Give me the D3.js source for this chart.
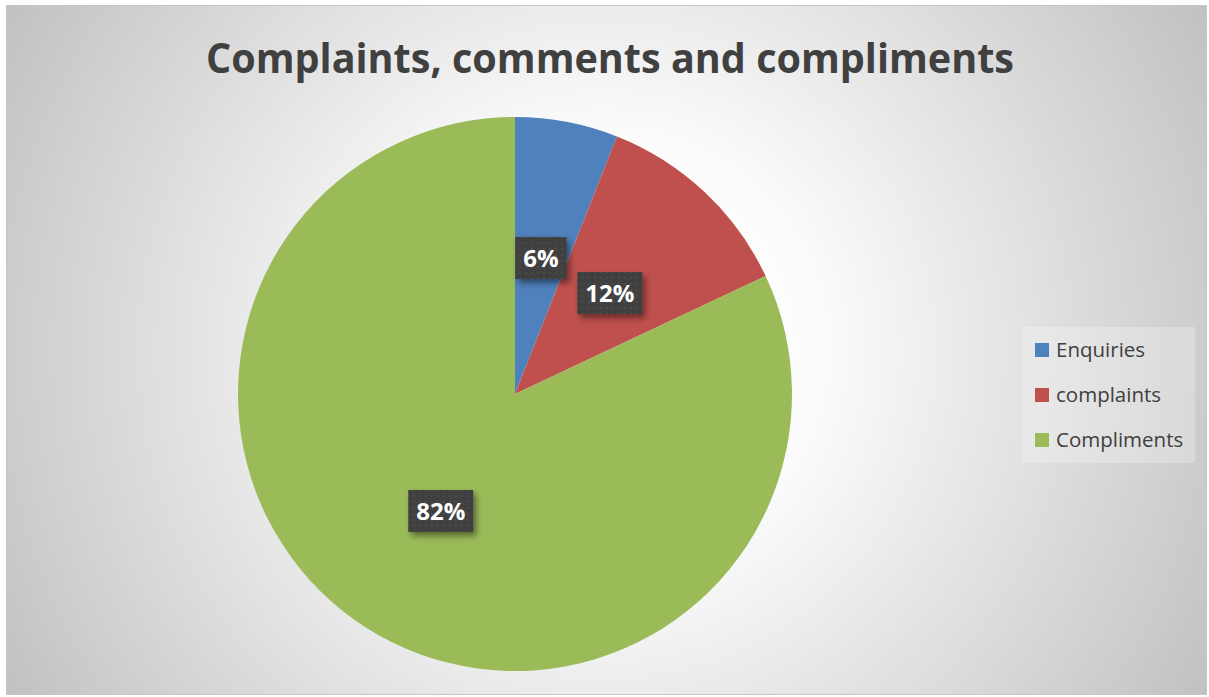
<!DOCTYPE html>
<html>
<head>
<meta charset="utf-8">
<script src="https://cdn.jsdelivr.net/npm/d3@7"></script>
<style>
  html, body { margin: 0; padding: 0; background: #ffffff; }
  svg { display: block; }
</style>
</head>
<body>
<svg id="chart" width="1209" height="697"></svg>
<script>
// Feedback breakdown
const categories = ["Enquiries", "complaints", "Compliments"];
const shares = [6, 12, 82];
const sliceColors = ["#4F81BD", "#C0504D", "#9BBB59"];
const titleText = "Complaints, comments and compliments";

const W = 1209, H = 697;
const svg = d3.select("#chart");
const defs = svg.append("defs");

// Radial grey-to-white backdrop
const bg = defs.append("radialGradient")
  .attr("id", "bgGrad")
  .attr("gradientUnits", "userSpaceOnUse")
  .attr("cx", 606).attr("cy", 350).attr("r", 700);
bg.append("stop").attr("offset", "0").attr("stop-color", "#ffffff");
bg.append("stop").attr("offset", "0.3").attr("stop-color", "#fcfcfc");
bg.append("stop").attr("offset", "1").attr("stop-color", "#c0c0c0");

// Dotted texture for the data-label boxes
const pat = defs.append("pattern")
  .attr("id", "dots")
  .attr("patternUnits", "userSpaceOnUse")
  .attr("width", 6).attr("height", 6);
pat.append("rect").attr("width", 6).attr("height", 6).attr("fill", "#3f3f3f");
pat.append("rect").attr("x", 2).attr("y", 2).attr("width", 2).attr("height", 2).attr("fill", "#4d4d4d");

// Soft drop shadow for label boxes
const sh = defs.append("filter").attr("id", "shadow")
  .attr("x", "-30%").attr("y", "-30%").attr("width", "160%").attr("height", "170%");
sh.append("feDropShadow")
  .attr("dx", 3).attr("dy", 4).attr("stdDeviation", 3)
  .attr("flood-color", "#000").attr("flood-opacity", 0.45);

// Chart area
svg.append("rect")
  .attr("x", 6.5).attr("y", 5.5)
  .attr("width", 1200).attr("height", 689)
  .attr("fill", "url(#bgGrad)")
  .attr("stroke", "#c6c6c6").attr("stroke-width", 1);

// Title
svg.append("text")
  .attr("x", 610).attr("y", 73)
  .attr("text-anchor", "middle")
  .attr("font-family", "'Open Sans', sans-serif")
  .attr("font-weight", 700)
  .attr("font-size", 41)
  .attr("fill", "#404040")
  .attr("textLength", 808)
  .attr("lengthAdjust", "spacingAndGlyphs")
  .text(titleText);

// Pie
const cx = 515, cy = 394, R = 277;
const data = categories.map((c, i) => ({ name: c, value: shares[i], color: sliceColors[i] }));
const pie = d3.pie().value(d => d.value).sort(null);
const arcs = pie(data);
const arc = d3.arc().innerRadius(0).outerRadius(R);
const labelArc = d3.arc().innerRadius(0).outerRadius(R);

const g = svg.append("g").attr("transform", `translate(${cx},${cy})`);
g.selectAll("path.slice")
  .data(arcs)
  .join("path")
  .attr("class", "slice")
  .attr("d", arc)
  .attr("fill", d => d.data.color);

// Data labels
const total = d3.sum(shares);
const fmt = d => Math.round(d.data.value / total * 100) + "%";
const lbl = g.selectAll("g.lbl")
  .data(arcs)
  .join("g")
  .attr("class", "lbl")
  .attr("transform", d => {
    const [x, y] = labelArc.centroid(d);
    return `translate(${x},${y})`;
  });

lbl.each(function(d) {
  const sel = d3.select(this);
  const t = sel.append("text")
    .attr("text-anchor", "middle")
    .attr("dy", "0.36em")
    .attr("font-family", "'Open Sans', sans-serif")
    .attr("font-weight", 700)
    .attr("font-size", 24)
    .attr("fill", "#ffffff")
    .text(fmt(d));
  const bb = t.node().getBBox();
  const bw = bb.width + 16, bh = 42;
  sel.insert("rect", "text")
    .attr("x", -bw / 2).attr("y", -bh / 2)
    .attr("width", bw).attr("height", bh)
    .attr("fill", "url(#dots)")
    .attr("filter", "url(#shadow)");
});

// Legend
const lg = svg.append("g");
lg.append("rect")
  .attr("x", 1022).attr("y", 327)
  .attr("width", 173).attr("height", 136)
  .attr("fill", "#ffffff").attr("fill-opacity", 0.25);

const rowY = d3.scalePoint().domain(categories).range([350, 440]);
const items = lg.selectAll("g.item")
  .data(data)
  .join("g")
  .attr("class", "item")
  .attr("transform", d => `translate(1035,${rowY(d.name)})`);
items.append("rect")
  .attr("x", 0).attr("y", -7)
  .attr("width", 14).attr("height", 14)
  .attr("fill", d => d.color);
items.append("text")
  .attr("x", 21).attr("dy", "0.36em")
  .attr("font-family", "'Open Sans', sans-serif")
  .attr("font-size", 20.5)
  .attr("fill", "#404040")
  .text(d => d.name);
</script>
</body>
</html>
